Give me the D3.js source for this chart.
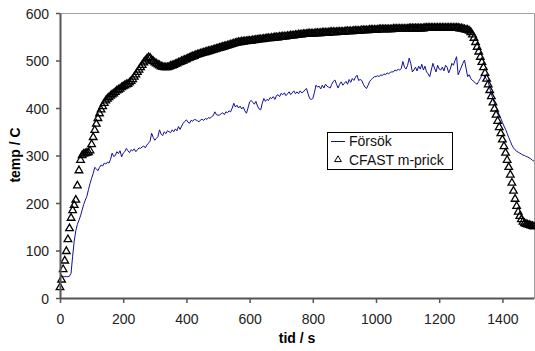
<!DOCTYPE html>
<html>
<head>
<meta charset="utf-8">
<script src="https://cdn.jsdelivr.net/npm/d3@7"></script>
<style>
  body { margin: 0; background: #fff; }
  svg { display: block; font-family: "Liberation Sans", Arial, sans-serif; }
</style>
</head>
<body>
<svg id="chart" width="535" height="351"></svg>
<script>
// time axis, seconds
var xTicks = [0, 200, 400, 600, 800, 1000, 1200, 1400];
var yTicks = [0, 100, 200, 300, 400, 500, 600];

// Försök (measured), one value every 5 s starting at t = 5
var forsokStart = 5, forsokStep = 5;
var forsok = [
  45,45,45,45,45,46,52,88,120,142,
  155,164,173,185,197,206,214,228,241,252,
  262,275,272,268,275,280,278,284,282,286,
  284,292,305,298,300,308,304,310,297,305,
  308,315,310,306,312,310,314,308,312,316,
  315,318,320,316,322,326,330,347,338,332,
  336,340,354,345,342,350,346,352,350,348,
  354,350,356,352,361,355,362,368,372,375,
  370,368,374,372,376,375,373,371,375,376,
  374,378,376,380,378,382,384,392,386,385,
  385,388,390,386,392,390,394,392,400,410,
  402,406,400,404,398,402,394,389,400,413,
  416,412,408,414,404,398,396,410,420,414,
  418,416,422,420,424,418,426,428,424,431,
  428,432,426,430,434,428,432,436,430,434,
  430,436,432,434,438,441,430,420,418,420,
  432,448,444,446,440,448,442,450,446,444,
  442,450,456,459,450,442,450,455,448,452,
  456,450,460,454,462,458,465,469,458,460,
  458,450,444,441,448,456,460,463,466,466,
  468,466,470,468,472,470,474,472,475,476,
  476,480,478,482,480,483,498,486,482,490,
  505,494,476,480,486,478,488,482,492,480,
  488,476,472,466,480,494,484,476,490,482,
  480,486,478,490,486,474,482,494,490,500,
  508,470,478,486,494,501,484,466,470,462,
  458,456,452,450,456,462,469,468,466,460,
  455,442,430,419,410,402,394,386,378,370,
  362,355,347,338,330,322,316,312,309,307,
  305,303,301,300,298,297,295,293,290,288
];

// CFAST m-prick (model), one value every 5 s starting at t = 0
var cfastStart = 0, cfastStep = 5;
var cfast = [
  24,40,62,80,100,125,148,170,186,197,
  208,238,270,292,302,305,306,307,308,312,
  325,340,355,368,380,390,398,405,412,417,
  421,424,427,430,432,435,438,440,442,445,
  447,449,451,452,455,458,462,467,472,477,
  482,487,492,497,501,505,508,507,503,500,
  497,495,493,491,489,488,487,487,487,488,
  490,491,492,494,495,497,498,500,501,503,
  504,506,507,509,510,511,513,514,515,516,
  517,518,519,520,521,522,523,524,525,526,
  527,528,529,530,531,532,533,534,535,536,
  537,538,539,540,540,541,541,542,542,543,
  543,543,544,544,545,545,546,546,546,547,
  547,548,548,548,549,549,550,550,550,551,
  551,552,552,552,553,553,554,554,554,555,
  555,556,556,556,557,557,557,558,558,558,
  558,558,559,559,559,559,560,560,560,560,
  560,561,561,561,561,561,562,562,562,562,
  562,563,563,563,563,563,564,564,564,564,
  564,565,565,565,565,565,566,566,566,566,
  566,566,567,567,567,567,567,567,567,567,
  567,568,568,568,568,568,568,568,568,568,
  568,569,569,569,569,569,569,569,569,569,
  569,570,570,570,570,570,570,570,570,570,
  570,570,570,570,570,570,570,570,570,570,
  570,570,570,569,569,568,567,566,566,564,
  561,556,549,540,530,520,509,498,487,475,
  463,451,439,426,413,400,387,374,361,348,
  335,321,307,292,277,261,244,227,210,195,
  183,174,167,162,159,157,156,155,154,153,
  152
];

var seriesNames = ["Försök", "CFAST m-prick"];

///////////////////////////////////////////////////////////////////////////////

var svg = d3.select("#chart");
var plotLeft = 60, plotRight = 534, plotTop = 13, plotBottom = 298;

var x = d3.scaleLinear().domain([0, 1500]).range([plotLeft, plotRight]);
var y = d3.scaleLinear().domain([0, 600]).range([plotBottom, plotTop]);

// plot frame (light grey on top and right)
svg.append("path")
  .attr("d", "M" + plotLeft + "," + (plotTop + 0.5) + "H" + (plotRight + 0.5) + "V" + plotBottom)
  .attr("fill", "none")
  .attr("stroke", "#a0a0a0")
  .attr("stroke-width", 1);

var forsokPts = forsok.map(function (v, i) {
  return [forsokStart + i * forsokStep, v];
});
var cfastPts = cfast.map(function (v, i) {
  return [cfastStart + i * cfastStep, v];
});

var line = d3.line()
  .x(function (d) { return x(d[0]); })
  .y(function (d) { return y(d[1]); });

svg.append("path")
  .datum(forsokPts)
  .attr("d", line)
  .attr("fill", "none")
  .attr("stroke", "#10109a")
  .attr("stroke-width", 1);

var tri = "M0,-3.6L3.8,3L-3.8,3Z";

svg.append("g").selectAll("path")
  .data(cfastPts)
  .enter().append("path")
  .attr("d", tri)
  .attr("transform", function (d) {
    return "translate(" + x(d[0]) + "," + y(d[1]) + ")";
  })
  .attr("fill", "none")
  .attr("stroke", "#000")
  .attr("stroke-width", 1.3);

// axes
var yAxis = svg.append("g")
  .attr("transform", "translate(" + plotLeft + ",0)")
  .call(d3.axisLeft(y).tickValues(yTicks).tickSize(4).tickPadding(7)
    .tickSizeOuter(0).tickFormat(d3.format("d")));

var xAxis = svg.append("g")
  .attr("transform", "translate(0," + plotBottom + ")")
  .call(d3.axisBottom(x).tickValues(xTicks).tickSize(5).tickPadding(11)
    .tickSizeOuter(0).tickFormat(d3.format("d")));

[yAxis, xAxis].forEach(function (g) {
  g.select(".domain").attr("stroke", "#555").attr("stroke-width", 2);
  g.selectAll(".tick line").attr("stroke", "#555").attr("stroke-width", 1.5);
  g.selectAll(".tick text")
    .attr("fill", "#222")
    .style("font-size", "14px")
    .style("font-family", "'Liberation Sans', Arial, sans-serif");
});
yAxis.selectAll(".tick text").attr("dy", "0.36em");

svg.append("text")
  .attr("x", 297)
  .attr("y", 343)
  .attr("text-anchor", "middle")
  .style("font-size", "14px")
  .style("font-weight", "bold")
  .text("tid / s");

svg.append("text")
  .attr("transform", "translate(20,155) rotate(-90)")
  .attr("text-anchor", "middle")
  .style("font-size", "14px")
  .style("font-weight", "bold")
  .text("temp / C");

// legend
var lg = svg.append("g");
lg.append("rect")
  .attr("x", 327.5).attr("y", 132.5)
  .attr("width", 125).attr("height", 37)
  .attr("fill", "#fff")
  .attr("stroke", "#000")
  .attr("stroke-width", 1);

lg.append("line")
  .attr("x1", 331).attr("x2", 345)
  .attr("y1", 141.5).attr("y2", 141.5)
  .attr("stroke", "#10109a")
  .attr("stroke-width", 1);

lg.append("path")
  .attr("d", "M0,-3.2L3.4,2.6L-3.4,2.6Z")
  .attr("transform", "translate(338,159)")
  .attr("fill", "none")
  .attr("stroke", "#000");

lg.selectAll("text.lbl")
  .data(seriesNames)
  .enter().append("text")
  .attr("class", "lbl")
  .attr("x", 349)
  .attr("y", function (d, i) { return 146 + i * 19; })
  .style("font-size", "14px")
  .attr("fill", "#111")
  .text(function (d) { return d; });
</script>
</body>
</html>
